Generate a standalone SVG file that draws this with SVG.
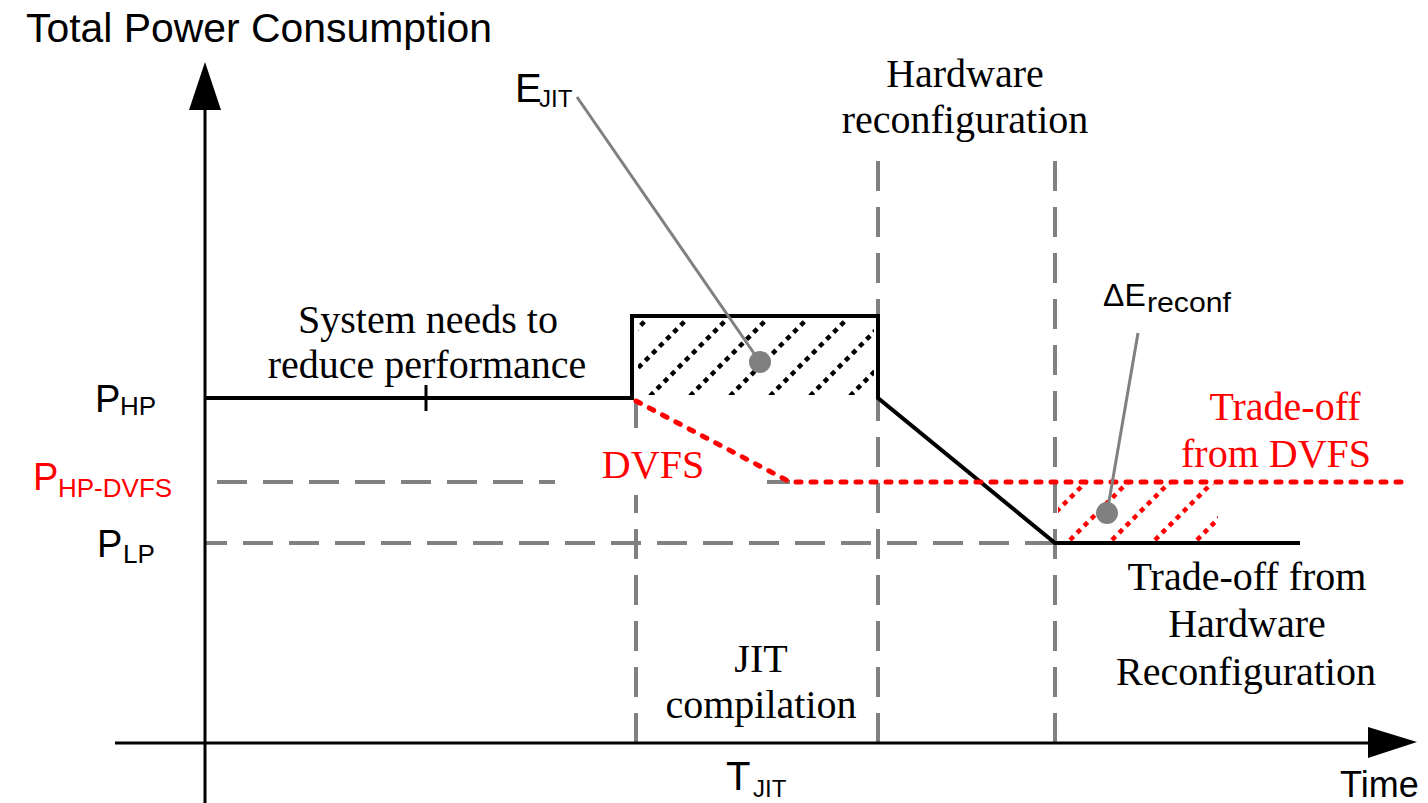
<svg xmlns="http://www.w3.org/2000/svg" width="1428" height="803" viewBox="0 0 1428 803">
  <style>
    .sans { font-family: "Liberation Sans", Arial, sans-serif; fill: #000; }
    .serif { font-family: "Liberation Serif", "Times New Roman", serif; font-size: 40px; fill: #000; text-anchor: middle; }
    .red { fill: #ff0000; }
    .axis { stroke: #000; stroke-width: 3; fill: none; }
    .guide { stroke: #808080; stroke-width: 4; fill: none; stroke-dasharray: 30 16; }
    .curve { stroke: #000; stroke-width: 4; fill: none; stroke-linejoin: miter; }
    .dvfs { stroke: #ff0000; stroke-width: 5; fill: none; stroke-dasharray: 5 10; stroke-linecap: round; }
    .hatch { stroke: #000; stroke-width: 4.5; stroke-dasharray: 5 5; fill: none; }
    .hatch-red { stroke: #ff0000; stroke-width: 4.5; stroke-dasharray: 5 5; fill: none; }
    .callout { stroke: #808080; stroke-width: 3; fill: none; }
    .dot { fill: #808080; }
  </style>
  <defs>
    <clipPath id="clip-ejit">
      <rect x="638" y="320" width="236" height="75"/>
    </clipPath>
    <clipPath id="clip-ereconf">
      <rect x="1058" y="484" width="160" height="57"/>
    </clipPath>
  </defs>

  <rect width="1428" height="803" fill="#fff"/>

  <!-- dashed reference levels and time markers -->
  <g id="guides">
    <line class="guide" x1="1055" y1="543" x2="205" y2="543"/>
    <line class="guide" x1="217" y1="482" x2="555" y2="482"/>
    <line class="guide" x1="767" y1="482" x2="790" y2="482" stroke-dasharray="none"/>
    <line class="guide" x1="636" y1="400" x2="636" y2="428" stroke-dasharray="none"/>
    <line class="guide" x1="636" y1="743" x2="636" y2="495"/>
    <line class="guide" x1="878" y1="743" x2="878" y2="145"/>
    <line class="guide" x1="1055" y1="743" x2="1055" y2="145"/>
  </g>

  <!-- axes -->
  <g id="axes">
    <line class="axis" x1="205" y1="803" x2="205" y2="100"/>
    <polygon points="205,62 189,110 221,110" fill="#000"/>
    <line class="axis" x1="115" y1="743" x2="1375" y2="743"/>
    <polygon points="1417,742 1368,727 1368,758" fill="#000"/>
  </g>

  <!-- hatched energy areas -->
  <g id="e-jit-area" clip-path="url(#clip-ejit)">
    <path class="hatch" d="M570,396 L648,318 M610,396 L688,318 M650,396 L728,318 M690,396 L768,318 M730,396 L808,318 M770,396 L848,318 M810,396 L888,318 M850,396 L928,318"/>
  </g>
  <g id="e-reconf-area" clip-path="url(#clip-ereconf)">
    <path class="hatch-red" d="M1028,540 L1086,482 M1070,540 L1128,482 M1112,540 L1170,482 M1155,540 L1213,482 M1197,540 L1255,482"/>
  </g>

  <!-- power curves -->
  <g id="power-hw">
    <polyline class="curve" points="205,398 632,398 632,316 878,316 878,398 1055,543 1300,543"/>
    <line x1="426" y1="385" x2="426" y2="411" stroke="#000" stroke-width="3"/>
  </g>
  <g id="power-dvfs">
    <polyline class="dvfs" points="636,401 790,482 1410,482"/>
  </g>

  <!-- callouts -->
  <g id="callout-ejit">
    <line class="callout" x1="577" y1="97" x2="760" y2="362"/>
    <circle class="dot" cx="760" cy="362" r="11"/>
  </g>
  <g id="callout-ereconf">
    <line class="callout" x1="1138" y1="333" x2="1107" y2="513"/>
    <circle class="dot" cx="1107" cy="513" r="11"/>
  </g>

  <!-- axis and level labels -->
  <g id="labels-sans">
    <text class="sans" x="26" y="42" font-size="40" textLength="466" lengthAdjust="spacingAndGlyphs">Total Power Consumption</text>
    <text class="sans" x="1340" y="797" font-size="36">Time</text>
    <text class="sans" x="726" y="790" font-size="40">T</text>
    <text class="sans" x="753" y="797" font-size="24">JIT</text>
    <text class="sans" x="515" y="102" font-size="40">E</text>
    <text class="sans" x="539" y="107" font-size="24">JIT</text>
    <text class="sans" x="95" y="412" font-size="38">P</text>
    <text class="sans" x="120" y="415" font-size="26">HP</text>
    <text class="sans red" x="33" y="490" font-size="38">P</text>
    <text class="sans red" x="58" y="497" font-size="26">HP-DVFS</text>
    <text class="sans" x="97" y="557" font-size="38">P</text>
    <text class="sans" x="123" y="563" font-size="26">LP</text>
    <text class="sans" x="1103" y="306" font-size="32">ΔE</text>
    <text class="sans" x="1147" y="312" font-size="28" textLength="84" lengthAdjust="spacingAndGlyphs">reconf</text>
  </g>

  <g id="labels-serif">
    <text class="serif" x="965" y="87">Hardware</text>
    <text class="serif" x="965" y="133">reconfiguration</text>
    <text class="serif" x="428" y="333">System needs to</text>
    <text class="serif" x="427" y="378">reduce performance</text>
    <text class="serif red" x="653" y="478">DVFS</text>
    <text class="serif red" x="1285" y="420">Trade-off</text>
    <text class="serif red" x="1276" y="467">from DVFS</text>
    <text class="serif" x="1247" y="590">Trade-off from</text>
    <text class="serif" x="1247" y="637">Hardware</text>
    <text class="serif" x="1246" y="685">Reconfiguration</text>
    <text class="serif" x="761" y="672">JIT</text>
    <text class="serif" x="761" y="718">compilation</text>
  </g>
</svg>
